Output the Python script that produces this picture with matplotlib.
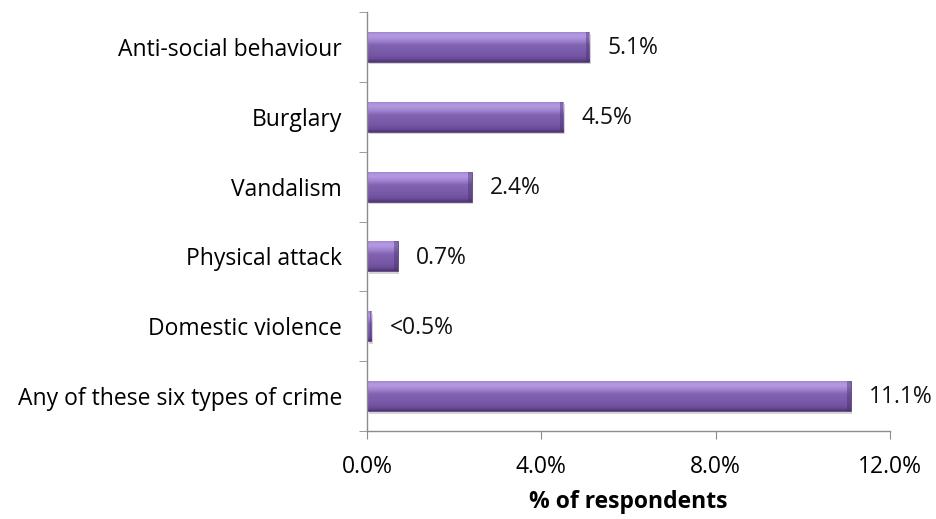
import matplotlib.pyplot as plt
import matplotlib.transforms as mtransforms
import numpy as np
from matplotlib.colors import LinearSegmentedColormap
from matplotlib.ticker import FuncFormatter, FixedLocator

plt.rcParams['font.family'] = ['Open Sans', 'DejaVu Sans']

categories = ['Anti-social behaviour', 'Burglary', 'Vandalism', 'Physical attack',
              'Domestic violence', 'Any of these six types of crime']
values = [5.1, 4.5, 2.4, 0.7, 0.1, 11.1]
labels = ['5.1%', '4.5%', '2.4%', '0.7%', '<0.5%', '11.1%']
xticks = [0, 4, 8, 12]

fs = 16.5

fig = plt.figure(figsize=(9.36, 5.19), dpi=100)
ax = fig.add_axes([367 / 936, 1 - 431 / 519, (890 - 367) / 936, (431 - 12) / 519])

n = len(categories)
ypos = np.arange(n)[::-1]
height = 0.43

# vertical shading for the bevelled bars (bottom -> top)
shade = LinearSegmentedColormap.from_list('bevel', [
    (0.00, '#4e3478'), (0.10, '#6a4c98'), (0.25, '#7758a6'), (0.55, '#8263b2'),
    (0.70, '#a184d2'), (0.85, '#b59be2'), (0.95, '#a98ddb'), (1.00, '#8a6cb8')])
grad = np.linspace(0, 1, 64).reshape(-1, 1)

# soft drop shadow below each bar
shadow_tf = mtransforms.offset_copy(ax.transData, fig=fig, x=1.5, y=-2.5, units='dots')
ax.barh(ypos, values, height=height, color='#b8b8b8', alpha=0.6, linewidth=0,
        transform=shadow_tf, zorder=1.5)

bars = ax.barh(ypos, values, height=height, color='#7b5cab', edgecolor='#5d4a72',
               linewidth=0.6, zorder=2)
for b in bars:
    x0, y0, w, h = b.get_x(), b.get_y(), b.get_width(), b.get_height()
    im = ax.imshow(grad, cmap=shade, aspect='auto', extent=[x0, x0 + w, y0, y0 + h],
                   origin='lower', zorder=2.5, interpolation='bilinear')
    im.set_clip_path(b)
    # darker bevel at the right end
    cap = min(0.08, w * 0.3)
    ax.fill_between([x0 + w - cap, x0 + w], y0, y0 + h, color='#4a3170', alpha=0.45,
                    linewidth=0, zorder=2.6)

for v, lab, y in zip(values, labels, ypos):
    ax.annotate(lab, (v, y), xytext=(13, -1), textcoords='offset points',
                va='center', ha='left', fontsize=fs, color='#111111')

ax.set_xlim(0, 12)
ax.set_ylim(-0.5, n - 0.5)
ax.xaxis.set_major_locator(FixedLocator(xticks))
ax.xaxis.set_major_formatter(FuncFormatter(lambda x, p: f'{x:.1f}%'))
ax.set_yticks(ypos)
ax.set_yticklabels(categories)
ax.yaxis.set_minor_locator(FixedLocator(np.arange(-0.5, n, 1.0)))
ax.tick_params(axis='y', which='major', length=0, pad=18, labelsize=fs)
ax.tick_params(axis='y', which='minor', length=6, color='#8c8c8c', direction='out')
ax.tick_params(axis='x', length=6, color='#8c8c8c', direction='out', pad=11, labelsize=fs)

for s in ['top', 'right']:
    ax.spines[s].set_visible(False)
for s in ['left', 'bottom']:
    ax.spines[s].set_color('#8c8c8c')
    ax.spines[s].set_linewidth(1.0)

ax.set_xlabel('% of respondents', fontsize=fs, fontweight='bold', labelpad=8)

fig.savefig('out.png', dpi=100)
